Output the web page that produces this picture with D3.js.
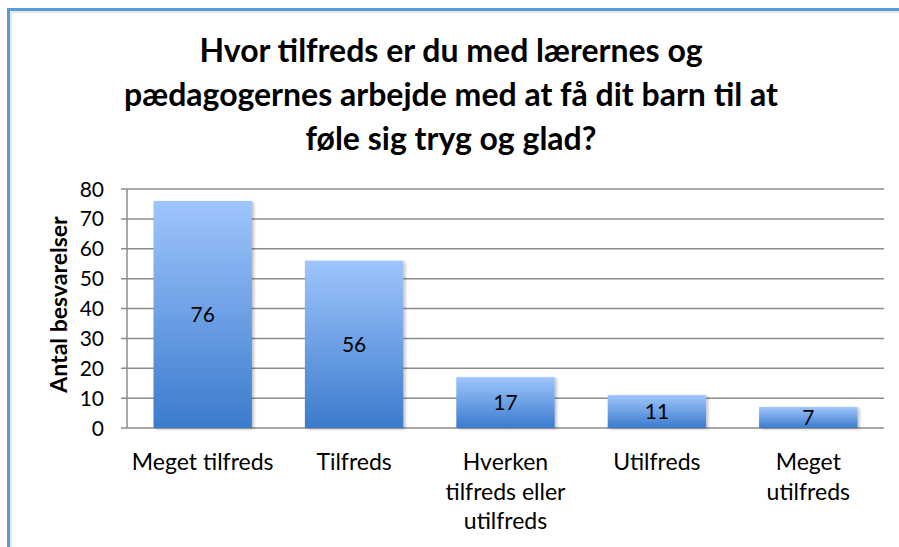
<!DOCTYPE html>
<html><head><meta charset="utf-8">
<script src="https://cdn.jsdelivr.net/npm/d3@7"></script>
<style>html,body{margin:0;padding:0;background:#fff;}svg{display:block;}</style>
</head><body>
<svg id="c" width="899" height="547"></svg>
<script>
const categories = [["Meget tilfreds"],["Tilfreds"],["Hverken","tilfreds eller","utilfreds"],["Utilfreds"],["Meget","utilfreds"]];
const values = [76, 56, 17, 11, 7];
const yTicks = [0,10,20,30,40,50,60,70,80];
const titleLines = ["Hvor tilfreds er du med lærernes og","pædagogernes arbejde med at få dit barn til at","føle sig tryg og glad?"];
const yTitle = "Antal besvarelser";

const svg = d3.select("#c");
const font = "Lato, 'Open Sans', sans-serif";
const m = {l:127, r:884, t:189, b:428};

// outer frame
svg.append("path").attr("d","M8.5,547 V9.5 H899").attr("fill","none").attr("stroke","#5b9bd5").attr("stroke-width",3);
svg.append("path").attr("d","M11,547 V12 H899").attr("fill","none").attr("stroke","#d0d0d0").attr("stroke-width",1);

const defs = svg.append("defs");
const g = defs.append("linearGradient").attr("id","bg").attr("x1",0).attr("y1",0).attr("x2",0).attr("y2",1);
g.append("stop").attr("offset","0%").attr("stop-color","#9fc5fd");
g.append("stop").attr("offset","100%").attr("stop-color","#3b7bcc");
const f = defs.append("filter").attr("id","sh").attr("x","-10%").attr("y","-10%").attr("width","130%").attr("height","130%");
f.append("feDropShadow").attr("dx",2).attr("dy",1).attr("stdDeviation",1.5).attr("flood-color","#000").attr("flood-opacity",0.25);

const x = d3.scaleBand().domain(d3.range(values.length)).range([m.l, m.r]).paddingInner(0.35).paddingOuter(0.175);
const y = d3.scaleLinear().domain([0,80]).range([m.b, m.t]);

// gridlines
svg.append("g").selectAll("line").data(yTicks).join("line")
  .attr("x1", m.l-6).attr("x2", m.r).attr("y1", d=>y(d)).attr("y2", d=>y(d))
  .attr("stroke","#8c8c8c").attr("stroke-width",1.5);
svg.append("line").attr("x1",m.l).attr("x2",m.l).attr("y1",m.t).attr("y2",m.b).attr("stroke","#8c8c8c").attr("stroke-width",1.5);

// y tick labels
svg.append("g").selectAll("text").data(yTicks).join("text")
  .attr("x", 104).attr("y", d=>y(d)).attr("dy","0.36em").attr("text-anchor","end")
  .attr("font-family",font).attr("font-size",21).attr("fill","#000").text(d=>d);

// bars
svg.append("g").selectAll("rect").data(values).join("rect")
  .attr("x",(d,i)=>x(i)).attr("width",x.bandwidth())
  .attr("y",d=>y(d)).attr("height",d=>y(0)-y(d))
  .attr("fill","url(#bg)").attr("filter","url(#sh)");

// value labels
svg.append("g").selectAll("text").data(values).join("text")
  .attr("x",(d,i)=>x(i)+x.bandwidth()/2).attr("y",d=>(y(d)+y(0))/2).attr("dy","0.36em")
  .attr("text-anchor","middle").attr("font-family",font).attr("font-size",21).attr("fill","#000").text(d=>d);

// category labels
const cl = svg.append("g").selectAll("text").data(categories).join("text")
  .attr("text-anchor","middle").attr("font-family",font).attr("font-size",23).attr("fill","#000");
cl.each(function(lines,i){
  const t = d3.select(this);
  lines.forEach((s,j)=>t.append("tspan").attr("x",x(i)+x.bandwidth()/2).attr("y",470+j*29.5).text(s));
});

// y title
svg.append("text").attr("transform","translate(67,"+((m.t+m.b)/2 - 4)+") rotate(-90)")
  .attr("text-anchor","middle").attr("font-family",font).attr("font-size",23).attr("font-weight","bold").text(yTitle);

// title
svg.append("g").selectAll("text").data(titleLines).join("text")
  .attr("x",451).attr("y",(d,i)=>62+i*44).attr("text-anchor","middle")
  .attr("font-family",font).attr("font-size",32).attr("font-weight","bold").text(d=>d);
</script>
</body></html>
